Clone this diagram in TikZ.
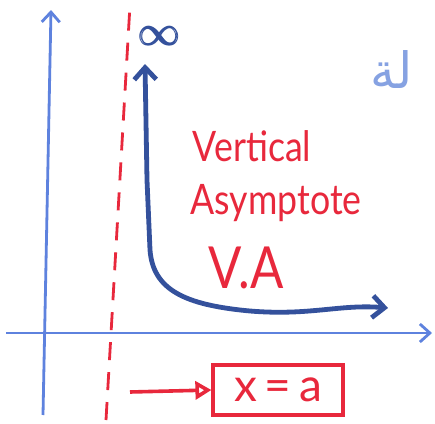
\documentclass[tikz,border=0pt]{standalone}
\usepackage{amsmath}
\usepackage{fontspec}
\setsansfont{Lato}
\newfontfamily\arabicfont[Script=Arabic]{DejaVu Sans}
\TeXXeTstate=1
\usetikzlibrary{arrows.meta}

\definecolor{axisblue}{HTML}{5E82DE}
\definecolor{curveblue}{HTML}{34519C}
\definecolor{penred}{HTML}{E8283C}
\definecolor{noteblue}{HTML}{86A2E2}

\tikzset{
  axisline/.style={axisblue, line width=1.4pt, -{Straight Barb[length=5pt, width=9pt]}},
  asymline/.style={penred, line width=1.4pt, dash pattern=on 9pt off 6pt},
  curveline/.style={curveblue, line width=2.4pt, line cap=round,
    {Straight Barb[length=6pt, width=11pt]}-{Straight Barb[length=6pt, width=11pt]}},
  redtext/.style={penred, font=\sffamily\fontsize{21}{24}\selectfont, inner sep=0pt},
  answerbox/.style={draw=penred, line width=1.6pt, minimum width=65pt, minimum height=25pt,
    penred, font=\sffamily\fontsize{23}{24}\selectfont}
}

\begin{document}
\begin{tikzpicture}[x=0.5pt, y=-0.5pt]
    % PAGE
    \useasboundingbox[fill=white] (0,0) rectangle (435,424);

    % AXES
    \draw[axisline] (43,415) -- (51,10);
    \draw[axisline] (6,333) -- (432,333);

    % VERTICAL ASYMPTOTE (dashed line)
    \draw[asymline] (106,420) -- (130,5);

    % CURVE
    \draw[curveline] (145,64) -- (147,180) -- (150,250)
        .. controls (153,290) and (185,305) .. (250,311)
        .. controls (310,316) and (340,304) .. (388,308);
    \node[curveblue, font=\fontsize{22}{22}\selectfont] (inf) at (160,36) {$\pmb{\infty}$};

    % LABELS
    \node[redtext, xscale=0.85] (vert) at (252,146) {Vertical};
    \node[redtext, xscale=0.85] (asym) at (276,203) {Asymptote};
    \node[redtext, font=\sffamily\fontsize{29}{30}\selectfont, xscale=0.85] (va) at (246,268) {V.A};

    % ARABIC NOTE
    \node[noteblue, font=\arabicfont\fontsize{25}{26}\selectfont] (note) at (392,70) {\beginR لة\endR};

    % x = a
    \node[answerbox] (eq) at (278,390) {x\,=\,a};
    \coordinate (from) at (130,392);
    \draw[penred, line width=1.8pt, -{Triangle[open, length=8pt, width=9pt]}] (from) -- (eq.west);
\end{tikzpicture}
\end{document}
